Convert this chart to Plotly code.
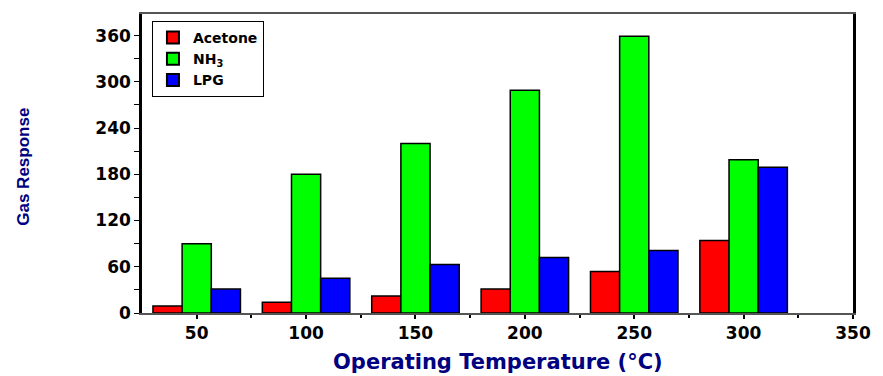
import plotly.graph_objects as go

temps = [50, 100, 150, 200, 250, 300]
acetone = [9, 14, 22, 31, 54, 94]
nh3 = [90, 180, 220, 289, 359, 199]
lpg = [31, 45, 63, 72, 81, 189]

series_names = ["Acetone", "NH<sub>3</sub>", "LPG"]
series_vals = [acetone, nh3, lpg]
series_colors = ["#FF0000", "#00FF00", "#0000FF"]

y_ticks = [0, 60, 120, 180, 240, 300, 360]
x_ticks = [50, 100, 150, 200, 250, 300, 350]

fig = go.Figure()
for name, vals, col in zip(series_names, series_vals, series_colors):
    fig.add_trace(go.Bar(x=temps, y=vals, name=name, marker=dict(color=col, line=dict(color="black", width=1.5))))

tick_font = dict(family="DejaVu Sans", size=17, color="black", weight="bold")

fig.update_layout(
    width=883, height=376,
    margin=dict(l=142, r=23, t=12, b=63),
    paper_bgcolor="white", plot_bgcolor="white",
    barmode="group", bargap=0.2, bargroupgap=0,
    showlegend=True,
    legend=dict(x=0.014, y=0.977, xanchor="left", yanchor="top",
                bordercolor="black", borderwidth=1, bgcolor="white",
                font=dict(family="DejaVu Sans", size=14, color="black", weight="bold"),
                tracegroupgap=0, itemsizing="constant"),
    xaxis=dict(range=[25, 350], tickvals=x_ticks, ticks="outside", ticklen=4, tickwidth=2,
               tickcolor="black", showline=True, linecolor="#555555", linewidth=1.5,
               mirror=True, showgrid=False, zeroline=False, tickfont=tick_font,
               minor=dict(tickvals=[75, 125, 175, 225, 275, 325], ticks="outside", ticklen=3, tickwidth=2, tickcolor="black")),
    yaxis=dict(range=[0, 388], tickvals=y_ticks, ticks="outside", ticklen=5, tickwidth=1,
               tickcolor="black", showline=True, linecolor="black", linewidth=2.5,
               mirror=True, showgrid=False, zeroline=False, tickfont=tick_font,
               minor=dict(tickvals=[30, 90, 150, 210, 270, 330], ticks="outside", ticklen=5, tickwidth=1, tickcolor="black")),
    annotations=[
        dict(text="Gas Response", xref="paper", yref="paper", x=-0.167, y=0.49,
             xanchor="center", yanchor="middle", textangle=-90, showarrow=False,
             font=dict(family="Liberation Sans", size=17, color="#000080", weight="bold")),
        dict(text="Operating Temperature (°C)", xref="paper", yref="paper", x=0.5, y=-0.163,
             xanchor="center", yanchor="middle", showarrow=False,
             font=dict(family="DejaVu Sans", size=21, color="#000080", weight="bold")),
    ],
)

fig.write_html("out.html", config={"displayModeBar": False},
               post_script="document.body.style.margin='0';document.body.style.overflow='hidden';")
